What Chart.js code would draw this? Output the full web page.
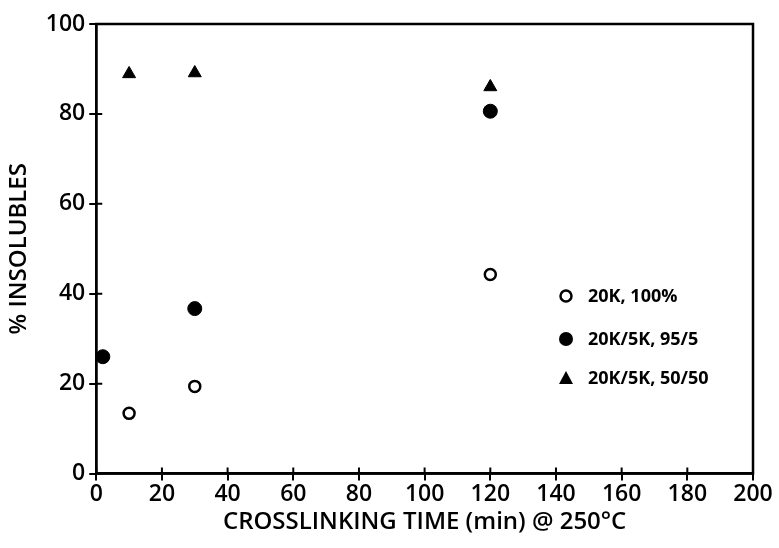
<!DOCTYPE html>
<html lang="en">
<head>
  <meta charset="UTF-8" />
  <title>% Insolubles vs crosslinking time</title>
  <script src="https://cdn.jsdelivr.net/npm/chart.js"></script>
  <style>
    html, body { margin: 0; padding: 0; background: #fff; }
    .wrap { width: 779px; height: 548px; position: relative; }
  </style>
</head>
<body>
  <div class="wrap"><canvas id="chart"></canvas></div>
  <script>
    // series: [minutes, % insolubles]
    const labels = ['20K, 100%', '20K/5K, 95/5', '20K/5K, 50/50'];
    const time100 = [10, 30, 120];
    const ins100 = [13.4, 19.4, 44.3];
    const time95 = [2, 30, 120];
    const ins95 = [26, 36.7, 80.6];
    const time50 = [10, 30, 120];
    const ins50 = [88.9, 89.1, 86];
    const xTicks = [0, 20, 40, 60, 80, 100, 120, 140, 160, 180, 200];
    const yTicks = [0, 20, 40, 60, 80, 100];

    const pts = (xs, ys) => xs.map((x, i) => ({ x: x, y: ys[i] }));
    const font = { family: 'Open Sans', size: 23, weight: '600' };
    const titleFont = { family: 'Open Sans', size: 24, weight: '600' };

    // box round the plot, ticks crossing the axes, legend inside the plot
    const framePlugin = {
      id: 'frame',
      afterDraw(chart) {
        const ctx = chart.ctx, a = chart.chartArea;
        const xs = chart.scales.x, ys = chart.scales.y;
        ctx.save();
        ctx.strokeStyle = '#000';
        ctx.lineWidth = 2.5;
        ctx.strokeRect(a.left, a.top, a.right - a.left, a.bottom - a.top);
        ctx.lineWidth = 2;
        ctx.beginPath();
        xTicks.forEach(v => {
          const px = xs.getPixelForValue(v);
          ctx.moveTo(px, a.bottom); ctx.lineTo(px, a.bottom - 6);
        });
        yTicks.forEach(v => {
          const py = ys.getPixelForValue(v);
          ctx.moveTo(a.left, py); ctx.lineTo(a.left + 6, py);
        });
        ctx.stroke();

        // legend
        ctx.font = 'bold 18px "Open Sans"';
        ctx.textBaseline = 'middle';
        ctx.fillStyle = '#000';
        const rows = [296, 339, 378];
        chart.data.datasets.forEach((ds, i) => {
          const y = rows[i], x = 566;
          ctx.beginPath();
          if (ds.pointStyle === 'triangle') {
            ctx.moveTo(x, y - 7); ctx.lineTo(x + 7, y + 6); ctx.lineTo(x - 7, y + 6); ctx.closePath();
            ctx.fill();
          } else {
            ctx.arc(x, y, ds.pointRadius, 0, Math.PI * 2);
            if (ds.backgroundColor === '#fff') { ctx.lineWidth = 2.5; ctx.stroke(); }
            else ctx.fill();
          }
          ctx.fillText(ds.label, x + 22, y + 1);
        });
        ctx.restore();
      }
    };

    new Chart(document.getElementById('chart'), {
      type: 'scatter',
      data: {
        datasets: [
          { label: labels[0], data: pts(time100, ins100), pointStyle: 'circle', pointRadius: 5.5,
            backgroundColor: '#fff', borderColor: '#000', borderWidth: 2.5 },
          { label: labels[1], data: pts(time95, ins95), pointStyle: 'circle', pointRadius: 7,
            backgroundColor: '#000', borderColor: '#000', borderWidth: 1 },
          { label: labels[2], data: pts(time50, ins50), pointStyle: 'triangle', pointRadius: 7.5,
            backgroundColor: '#000', borderColor: '#000', borderWidth: 1 }
        ]
      },
      options: {
        responsive: true,
        maintainAspectRatio: false,
        animation: false,
        layout: { padding: { top: 24, right: 26, left: 1, bottom: 9 } },
        plugins: { legend: { display: false }, tooltip: { enabled: false } },
        scales: {
          x: {
            type: 'linear', min: 0, max: 200,
            afterBuildTicks: s => { s.ticks = xTicks.map(v => ({ value: v })); },
            grid: { drawOnChartArea: false, color: '#000', lineWidth: 2, tickLength: 7 },
            border: { display: true, color: '#000', width: 2.5 },
            ticks: { color: '#000', font: font, padding: 0, maxRotation: 0 },
            title: { display: true, text: 'CROSSLINKING TIME (min) @ 250°C', color: '#000', font: titleFont, padding: { top: 0, bottom: 2 } }
          },
          y: {
            type: 'linear', min: 0, max: 100,
            afterBuildTicks: s => { s.ticks = yTicks.map(v => ({ value: v })); },
            grid: { drawOnChartArea: false, color: '#000', lineWidth: 2, tickLength: 7 },
            border: { display: true, color: '#000', width: 2.5 },
            ticks: { color: '#000', font: font, padding: 4 },
            title: { display: true, text: '% INSOLUBLES', color: '#000', font: titleFont, padding: { bottom: 8 } }
          }
        }
      },
      plugins: [framePlugin]
    });
  </script>
</body>
</html>
